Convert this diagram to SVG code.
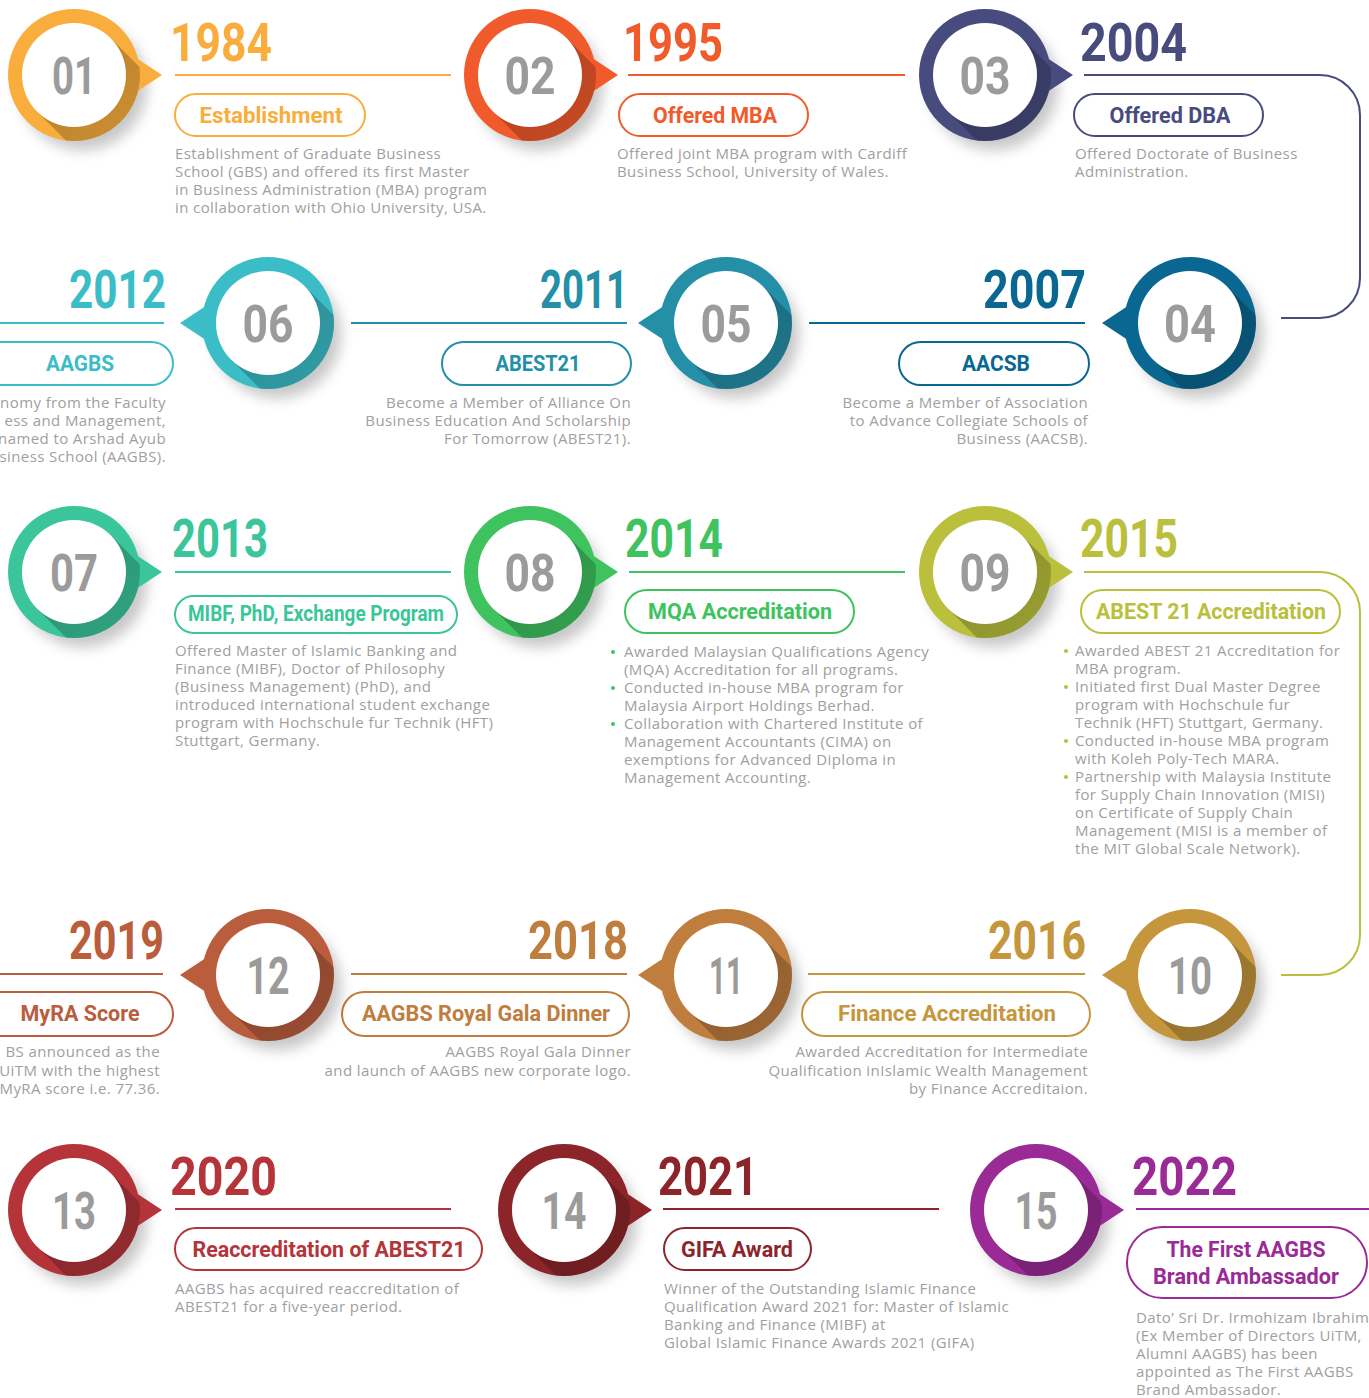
<svg xmlns="http://www.w3.org/2000/svg" width="1369" height="1398" viewBox="0 0 1369 1398">
<style>
.yr{font-family:Roboto,'Liberation Sans',sans-serif;font-weight:700;font-size:53px}
.num{font-family:Roboto,'Liberation Sans',sans-serif;font-weight:700;font-size:52px;fill:#9b9b9b;text-anchor:middle}
.lbl{font-family:Roboto,'Liberation Sans',sans-serif;font-weight:700;font-size:22px;text-anchor:middle}
.desc{font-family:'Open Sans','Liberation Sans',sans-serif;font-size:15px;letter-spacing:0.4px;fill:#a0a0a0}
.end{text-anchor:end}
.pill{fill:#fff;stroke-width:2}
.ln{fill:none;stroke-width:2}
.ds{fill:#000;opacity:.22;filter:url(#blur)}
.lsh{fill:url(#lsg)}
.w{fill:#fff}
.k01{fill:#F8AD3C}.s01{stroke:#F8AD3C}
.k02{fill:#F15A2A}.s02{stroke:#F15A2A}
.k03{fill:#474B7E}.s03{stroke:#474B7E}
.k04{fill:#0A6792}.s04{stroke:#0A6792}
.k05{fill:#258FA8}.s05{stroke:#258FA8}
.k06{fill:#3BBDC8}.s06{stroke:#3BBDC8}
.k07{fill:#3AC59A}.s07{stroke:#3AC59A}
.k08{fill:#3EC35F}.s08{stroke:#3EC35F}
.k09{fill:#BAC03C}.s09{stroke:#BAC03C}
.k10{fill:#C5963C}.s10{stroke:#C5963C}
.k11{fill:#BF7D3E}.s11{stroke:#BF7D3E}
.k12{fill:#BA5D3D}.s12{stroke:#BA5D3D}
.k13{fill:#B4343A}.s13{stroke:#B4343A}
.k14{fill:#8C2529}.s14{stroke:#8C2529}
.k15{fill:#9A2A96}.s15{stroke:#9A2A96}
</style>
<defs>
<filter id="blur" x="-50%" y="-50%" width="200%" height="200%"><feGaussianBlur stdDeviation="7"/></filter>
<clipPath id="ring" clipPathUnits="userSpaceOnUse"><circle r="66"/></clipPath>
<linearGradient id="lsg" x1="0" y1="0" x2="1" y2="1"><stop offset="0" stop-color="#000" stop-opacity=".28"/><stop offset="1" stop-color="#000" stop-opacity=".12"/></linearGradient>
<path id="lshape" d="M36.8,-36.8 L110,36.4 L36.4,110 L-36.8,36.8Z"/>
</defs>
<rect width="1369" height="1398" fill="#fff"/>

<g id="connectors">
<path class="ln s01" d="M175 75H451"/>
<path class="ln s02" d="M628 75H905"/>
<path class="ln s03" d="M1084 75H1320A40 40 0 0 1 1360 115V278A40 40 0 0 1 1320 318H1281"/>
<path class="ln s04" d="M809 323H1085"/>
<path class="ln s05" d="M351 323H627"/>
<path class="ln s06" d="M0 323H164"/>
<path class="ln s07" d="M175 572H451"/>
<path class="ln s08" d="M629 572H905"/>
<path class="ln s09" d="M1084 572H1320A40 40 0 0 1 1360 612V935A40 40 0 0 1 1320 975H1281"/>
<path class="ln s10" d="M808 974H1085"/>
<path class="ln s11" d="M351 974H627"/>
<path class="ln s12" d="M0 974H163"/>
<path class="ln s13" d="M175 1209H451"/>
<path class="ln s14" d="M663 1209H939"/>
<path class="ln s15" d="M1136 1209H1369"/>
</g>

<g id="n01">
<g transform="translate(74,75)"><circle class="ds" cx="9" cy="11" r="64"/><path class="k01" d="M50,-25L88,0L50,25Z"/><circle class="k01" r="66"/><use href="#lshape" class="lsh" clip-path="url(#ring)"/><circle class="w" r="52"/><text class="num" y="19" textLength="44" lengthAdjust="spacingAndGlyphs">01</text></g>
<text class="yr k01" x="170" y="61" textLength="102" lengthAdjust="spacingAndGlyphs">1984</text>
<rect class="pill s01" x="175" y="94" width="190" height="42" rx="21"/>
<text class="lbl k01" x="271" y="123" textLength="143" lengthAdjust="spacingAndGlyphs">Establishment</text>
<text class="desc"><tspan x="175" y="159">Establishment of Graduate Business</tspan><tspan x="175" y="177">School (GBS) and offered its first Master</tspan><tspan x="175" y="195">in Business Administration (MBA) program</tspan><tspan x="175" y="213">in collaboration with Ohio University, USA.</tspan></text>
</g>

<g id="n02">
<g transform="translate(530,75)"><circle class="ds" cx="9" cy="11" r="64"/><path class="k02" d="M50,-25L88,0L50,25Z"/><circle class="k02" r="66"/><use href="#lshape" class="lsh" clip-path="url(#ring)"/><circle class="w" r="52"/><text class="num" y="19" textLength="51" lengthAdjust="spacingAndGlyphs">02</text></g>
<text class="yr k02" x="623" y="61" textLength="100" lengthAdjust="spacingAndGlyphs">1995</text>
<rect class="pill s02" x="619" y="94" width="189" height="42" rx="21"/>
<text class="lbl k02" x="715" y="123" textLength="124" lengthAdjust="spacingAndGlyphs">Offered MBA</text>
<text class="desc"><tspan x="617" y="159">Offered joint MBA program with Cardiff</tspan><tspan x="617" y="177">Business School, University of Wales.</tspan></text>
</g>

<g id="n03">
<g transform="translate(985,75)"><circle class="ds" cx="9" cy="11" r="64"/><path class="k03" d="M50,-25L88,0L50,25Z"/><circle class="k03" r="66"/><use href="#lshape" class="lsh" clip-path="url(#ring)"/><circle class="w" r="52"/><text class="num" y="19" textLength="51" lengthAdjust="spacingAndGlyphs">03</text></g>
<text class="yr k03" x="1080" y="61" textLength="107" lengthAdjust="spacingAndGlyphs">2004</text>
<rect class="pill s03" x="1074" y="94" width="189" height="42" rx="21"/>
<text class="lbl k03" x="1170" y="123" textLength="121" lengthAdjust="spacingAndGlyphs">Offered DBA</text>
<text class="desc"><tspan x="1075" y="159">Offered Doctorate of Business</tspan><tspan x="1075" y="177">Administration.</tspan></text>
</g>

<g id="n04">
<g transform="translate(1190,323)"><circle class="ds" cx="9" cy="11" r="64"/><path class="k04" d="M-50,-25L-88,0L-50,25Z"/><circle class="k04" r="66"/><use href="#lshape" class="lsh" clip-path="url(#ring)"/><circle class="w" r="52"/><text class="num" y="19" textLength="52" lengthAdjust="spacingAndGlyphs">04</text></g>
<text class="yr k04 end" x="1086" y="308" textLength="103" lengthAdjust="spacingAndGlyphs">2007</text>
<rect class="pill s04" x="899" y="342" width="190" height="43" rx="21.5"/>
<text class="lbl k04" x="996" y="371" textLength="68" lengthAdjust="spacingAndGlyphs">AACSB</text>
<text class="desc end"><tspan x="1088" y="408">Become a Member of Association</tspan><tspan x="1088" y="426">to Advance Collegiate Schools of</tspan><tspan x="1088" y="444">Business (AACSB).</tspan></text>
</g>

<g id="n05">
<g transform="translate(726,323)"><circle class="ds" cx="9" cy="11" r="64"/><path class="k05" d="M-50,-25L-88,0L-50,25Z"/><circle class="k05" r="66"/><use href="#lshape" class="lsh" clip-path="url(#ring)"/><circle class="w" r="52"/><text class="num" y="19" textLength="51" lengthAdjust="spacingAndGlyphs">05</text></g>
<text class="yr k05 end" x="628" y="308" textLength="88" lengthAdjust="spacingAndGlyphs">2011</text>
<rect class="pill s05" x="442" y="342" width="189" height="43" rx="21.5"/>
<text class="lbl k05" x="538" y="371" textLength="85" lengthAdjust="spacingAndGlyphs">ABEST21</text>
<text class="desc end"><tspan x="631" y="408">Become a Member of Alliance On</tspan><tspan x="631" y="426">Business Education And Scholarship</tspan><tspan x="631" y="444">For Tomorrow (ABEST21).</tspan></text>
</g>

<g id="n06">
<g transform="translate(268,323)"><circle class="ds" cx="9" cy="11" r="64"/><path class="k06" d="M-50,-25L-88,0L-50,25Z"/><circle class="k06" r="66"/><use href="#lshape" class="lsh" clip-path="url(#ring)"/><circle class="w" r="52"/><text class="num" y="19" textLength="51" lengthAdjust="spacingAndGlyphs">06</text></g>
<text class="yr k06 end" x="166" y="308" textLength="97" lengthAdjust="spacingAndGlyphs">2012</text>
<rect class="pill s06" x="-20" y="342" width="193" height="43" rx="21.5"/>
<text class="lbl k06" x="80" y="371" textLength="68" lengthAdjust="spacingAndGlyphs">AAGBS</text>
<text class="desc end"><tspan x="166" y="408">nomy from the Faculty</tspan><tspan x="166" y="426">ess and Management,</tspan><tspan x="166" y="444">named to Arshad Ayub</tspan><tspan x="166" y="462">siness School (AAGBS).</tspan></text>
</g>

<g id="n07">
<g transform="translate(74,572)"><circle class="ds" cx="9" cy="11" r="64"/><path class="k07" d="M50,-25L88,0L50,25Z"/><circle class="k07" r="66"/><use href="#lshape" class="lsh" clip-path="url(#ring)"/><circle class="w" r="52"/><text class="num" y="19" textLength="48" lengthAdjust="spacingAndGlyphs">07</text></g>
<text class="yr k07" x="172" y="557" textLength="96" lengthAdjust="spacingAndGlyphs">2013</text>
<rect class="pill s07" x="175" y="596" width="282" height="37" rx="18.5"/>
<text class="lbl k07" x="316" y="621" textLength="256" lengthAdjust="spacingAndGlyphs">MIBF, PhD, Exchange Program</text>
<text class="desc"><tspan x="175" y="656">Offered Master of Islamic Banking and</tspan><tspan x="175" y="674">Finance (MIBF), Doctor of Philosophy</tspan><tspan x="175" y="692">(Business Management) (PhD), and</tspan><tspan x="175" y="710">introduced international student exchange</tspan><tspan x="175" y="728">program with Hochschule fur Technik (HFT)</tspan><tspan x="175" y="746">Stuttgart, Germany.</tspan></text>
</g>

<g id="n08">
<g transform="translate(530,572)"><circle class="ds" cx="9" cy="11" r="64"/><path class="k08" d="M50,-25L88,0L50,25Z"/><circle class="k08" r="66"/><use href="#lshape" class="lsh" clip-path="url(#ring)"/><circle class="w" r="52"/><text class="num" y="19" textLength="51" lengthAdjust="spacingAndGlyphs">08</text></g>
<text class="yr k08" x="625" y="557" textLength="98" lengthAdjust="spacingAndGlyphs">2014</text>
<rect class="pill s08" x="625" y="590" width="229" height="43" rx="21.5"/>
<text class="lbl k08" x="740" y="619" textLength="184" lengthAdjust="spacingAndGlyphs">MQA Accreditation</text>
<g class="k08"><circle cx="613" cy="652" r="2"/><circle cx="613" cy="688" r="2"/><circle cx="613" cy="724" r="2"/></g>
<text class="desc"><tspan x="624" y="657">Awarded Malaysian Qualifications Agency</tspan><tspan x="624" y="675">(MQA) Accreditation for all programs.</tspan><tspan x="624" y="693">Conducted in-house MBA program for</tspan><tspan x="624" y="711">Malaysia Airport Holdings Berhad.</tspan><tspan x="624" y="729">Collaboration with Chartered Institute of</tspan><tspan x="624" y="747">Management Accountants (CIMA) on</tspan><tspan x="624" y="765">exemptions for Advanced Diploma in</tspan><tspan x="624" y="783">Management Accounting.</tspan></text>
</g>

<g id="n09">
<g transform="translate(985,572)"><circle class="ds" cx="9" cy="11" r="64"/><path class="k09" d="M50,-25L88,0L50,25Z"/><circle class="k09" r="66"/><use href="#lshape" class="lsh" clip-path="url(#ring)"/><circle class="w" r="52"/><text class="num" y="19" textLength="51" lengthAdjust="spacingAndGlyphs">09</text></g>
<text class="yr k09" x="1080" y="557" textLength="98" lengthAdjust="spacingAndGlyphs">2015</text>
<rect class="pill s09" x="1081" y="590" width="259" height="43" rx="21.5"/>
<text class="lbl k09" x="1211" y="619" textLength="230" lengthAdjust="spacingAndGlyphs">ABEST 21 Accreditation</text>
<g class="k09"><circle cx="1066" cy="651" r="2"/><circle cx="1066" cy="687" r="2"/><circle cx="1066" cy="741" r="2"/><circle cx="1066" cy="777" r="2"/></g>
<text class="desc"><tspan x="1075" y="656">Awarded ABEST 21 Accreditation for</tspan><tspan x="1075" y="674">MBA program.</tspan><tspan x="1075" y="692">Initiated first Dual Master Degree</tspan><tspan x="1075" y="710">program with Hochschule fur</tspan><tspan x="1075" y="728">Technik (HFT) Stuttgart, Germany.</tspan><tspan x="1075" y="746">Conducted in-house MBA program</tspan><tspan x="1075" y="764">with Koleh Poly-Tech MARA.</tspan><tspan x="1075" y="782">Partnership with Malaysia Institute</tspan><tspan x="1075" y="800">for Supply Chain Innovation (MISI)</tspan><tspan x="1075" y="818">on Certificate of Supply Chain</tspan><tspan x="1075" y="836">Management (MISI is a member of</tspan><tspan x="1075" y="854">the MIT Global Scale Network).</tspan></text>
</g>

<g id="n10">
<g transform="translate(1190,975)"><circle class="ds" cx="9" cy="11" r="64"/><path class="k10" d="M-50,-25L-88,0L-50,25Z"/><circle class="k10" r="66"/><use href="#lshape" class="lsh" clip-path="url(#ring)"/><circle class="w" r="52"/><text class="num" y="19" textLength="44" lengthAdjust="spacingAndGlyphs">10</text></g>
<text class="yr k10 end" x="1086" y="959" textLength="98" lengthAdjust="spacingAndGlyphs">2016</text>
<rect class="pill s10" x="802" y="992" width="288" height="44" rx="22"/>
<text class="lbl k10" x="947" y="1021" textLength="218" lengthAdjust="spacingAndGlyphs">Finance Accreditation</text>
<text class="desc end"><tspan x="1088" y="1057">Awarded Accreditation for Intermediate</tspan><tspan x="1088" y="1076">Qualification inIslamic Wealth Management</tspan><tspan x="1088" y="1094">by Finance Accreditaion.</tspan></text>
</g>

<g id="n11">
<g transform="translate(726,975)"><circle class="ds" cx="9" cy="11" r="64"/><path class="k11" d="M-50,-25L-88,0L-50,25Z"/><circle class="k11" r="66"/><use href="#lshape" class="lsh" clip-path="url(#ring)"/><circle class="w" r="52"/><text class="num" y="19" textLength="34" lengthAdjust="spacingAndGlyphs">11</text></g>
<text class="yr k11 end" x="628" y="959" textLength="100" lengthAdjust="spacingAndGlyphs">2018</text>
<rect class="pill s11" x="342" y="992" width="287" height="44" rx="22"/>
<text class="lbl k11" x="486" y="1021" textLength="248" lengthAdjust="spacingAndGlyphs">AAGBS Royal Gala Dinner</text>
<text class="desc end"><tspan x="631" y="1057">AAGBS Royal Gala Dinner</tspan><tspan x="631" y="1076">and launch of AAGBS new corporate logo.</tspan></text>
</g>

<g id="n12">
<g transform="translate(268,975)"><circle class="ds" cx="9" cy="11" r="64"/><path class="k12" d="M-50,-25L-88,0L-50,25Z"/><circle class="k12" r="66"/><use href="#lshape" class="lsh" clip-path="url(#ring)"/><circle class="w" r="52"/><text class="num" y="19" textLength="43" lengthAdjust="spacingAndGlyphs">12</text></g>
<text class="yr k12 end" x="164" y="959" textLength="95" lengthAdjust="spacingAndGlyphs">2019</text>
<rect class="pill s12" x="-20" y="992" width="193" height="44" rx="22"/>
<text class="lbl k12" x="80" y="1021" textLength="119" lengthAdjust="spacingAndGlyphs">MyRA Score</text>
<text class="desc end"><tspan x="160" y="1057">BS announced as the</tspan><tspan x="160" y="1076">UiTM with the highest</tspan><tspan x="160" y="1094">MyRA score i.e. 77.36.</tspan></text>
</g>

<g id="n13">
<g transform="translate(74,1210)"><circle class="ds" cx="9" cy="11" r="64"/><path class="k13" d="M50,-25L88,0L50,25Z"/><circle class="k13" r="66"/><use href="#lshape" class="lsh" clip-path="url(#ring)"/><circle class="w" r="52"/><text class="num" y="19" textLength="44" lengthAdjust="spacingAndGlyphs">13</text></g>
<text class="yr k13" x="170" y="1195" textLength="107" lengthAdjust="spacingAndGlyphs">2020</text>
<rect class="pill s13" x="175" y="1228" width="307" height="42" rx="21"/>
<text class="lbl k13" x="329" y="1257" textLength="273" lengthAdjust="spacingAndGlyphs">Reaccreditation of ABEST21</text>
<text class="desc"><tspan x="175" y="1294">AAGBS has acquired reaccreditation of</tspan><tspan x="175" y="1312">ABEST21 for a five-year period.</tspan></text>
</g>

<g id="n14">
<g transform="translate(564,1210)"><circle class="ds" cx="9" cy="11" r="64"/><path class="k14" d="M50,-25L88,0L50,25Z"/><circle class="k14" r="66"/><use href="#lshape" class="lsh" clip-path="url(#ring)"/><circle class="w" r="52"/><text class="num" y="19" textLength="45" lengthAdjust="spacingAndGlyphs">14</text></g>
<text class="yr k14" x="658" y="1195" textLength="100" lengthAdjust="spacingAndGlyphs">2021</text>
<rect class="pill s14" x="664" y="1228" width="147" height="42" rx="21"/>
<text class="lbl k14" x="737" y="1257" textLength="112" lengthAdjust="spacingAndGlyphs">GIFA Award</text>
<text class="desc"><tspan x="664" y="1294">Winner of the Outstanding Islamic Finance</tspan><tspan x="664" y="1312">Qualification Award 2021 for: Master of Islamic</tspan><tspan x="664" y="1330">Banking and Finance (MIBF) at</tspan><tspan x="664" y="1348">Global Islamic Finance Awards 2021 (GIFA)</tspan></text>
</g>

<g id="n15">
<g transform="translate(1036,1210)"><circle class="ds" cx="9" cy="11" r="64"/><path class="k15" d="M50,-25L88,0L50,25Z"/><circle class="k15" r="66"/><use href="#lshape" class="lsh" clip-path="url(#ring)"/><circle class="w" r="52"/><text class="num" y="19" textLength="43" lengthAdjust="spacingAndGlyphs">15</text></g>
<text class="yr k15" x="1132" y="1195" textLength="105" lengthAdjust="spacingAndGlyphs">2022</text>
<rect class="pill s15" x="1127" y="1227" width="240" height="71" rx="35.5"/>
<text class="lbl k15" x="1246" y="1257" textLength="159" lengthAdjust="spacingAndGlyphs">The First AAGBS</text>
<text class="lbl k15" x="1246" y="1284" textLength="186" lengthAdjust="spacingAndGlyphs">Brand Ambassador</text>
<text class="desc"><tspan x="1136" y="1323">Dato’ Sri Dr. Irmohizam Ibrahim</tspan><tspan x="1136" y="1341">(Ex Member of Directors UiTM,</tspan><tspan x="1136" y="1359">Alumni AAGBS) has been</tspan><tspan x="1136" y="1377">appointed as The First AAGBS</tspan><tspan x="1136" y="1395">Brand Ambassador.</tspan></text>
</g>
</svg>
